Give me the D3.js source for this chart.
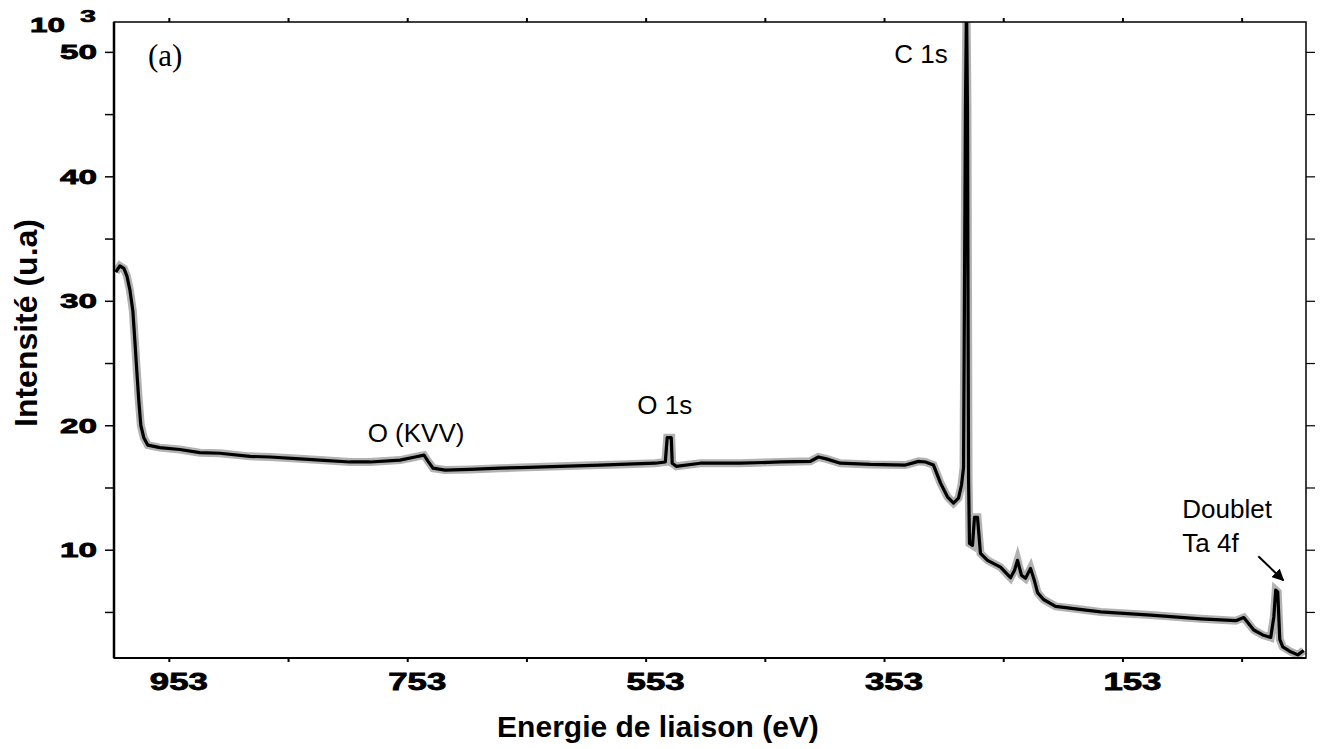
<!DOCTYPE html>
<html>
<head>
<meta charset="utf-8">
<script src="https://cdn.jsdelivr.net/npm/d3@7"></script>
<style>
  body { margin: 0; background: #fff; }
  text { font-family: "Liberation Sans", Arial, sans-serif; }
</style>
</head>
<body>
<div id="chart"></div>
<script>
// spectrum: binding energy (eV) and intensity (x10^3)
const energy = [997.5, 994.1, 990.7, 988.2, 985.7, 983.2, 981.5, 979.9, 978.2, 976.5, 974.0, 970.6,
  960.6, 943.8, 927.0, 910.2, 885.0, 868.2, 843.0, 826.2, 801.0, 784.2, 759.0, 746.4, 738.9, 735.5,
  731.3, 721.3, 700.3, 675.1, 658.3, 624.7, 591.1, 574.3, 545.0, 536.5, 534.9, 531.5, 530.7, 527.3,
  507.2, 473.6, 440.0, 414.8, 408.1, 401.4, 389.6, 364.4, 335.0, 324.1, 318.2, 311.5, 305.6, 299.8,
  294.7, 290.5, 288.0, 286.3, 284.7, 283.8, 283.0, 282.1, 281.3, 278.8, 277.1, 274.6, 272.1, 266.2,
  255.3, 246.9, 243.5, 241.0, 237.7, 234.3, 230.1, 226.8, 224.2, 219.2, 209.1, 192.3, 171.3, 129.3,
  87.3, 57.9, 51.2, 42.8, 35.3, 28.6, 26.0, 24.4, 22.7, 21.0, 18.5, 11.8, 5.9, 0.9];
const intensity = [32.3, 32.8, 32.6, 32.0, 30.9, 29.2, 26.8, 24.4, 22.0, 20.0, 19.0, 18.4,
  18.2, 18.05, 17.8, 17.75, 17.5, 17.45, 17.3, 17.2, 17.05, 17.05, 17.2, 17.45, 17.6, 17.1,
  16.55, 16.4, 16.45, 16.55, 16.6, 16.7, 16.8, 16.85, 16.95, 17.05, 19.0, 19.0, 16.95, 16.7,
  16.95, 16.95, 17.05, 17.1, 17.45, 17.3, 16.95, 16.85, 16.8, 17.1, 17.05, 16.8, 15.35, 14.25,
  13.75, 14.15, 15.2, 16.6, 45.5, 54, 45.5, 15.8, 10.5, 10.35, 12.6, 12.6, 9.7, 9.15,
  8.6, 7.75, 8.35, 9.15, 7.95, 7.7, 8.5, 7.5, 6.55, 6.0, 5.45, 5.25, 5.0, 4.75,
  4.45, 4.3, 4.55, 3.55, 3.15, 2.95, 4.6, 6.75, 6.6, 2.8, 2.2, 1.8, 1.55, 1.9];

const xTicks = [953, 853, 753, 653, 553, 453, 353, 253, 153, 53];
const xLabels = [953, 753, 553, 353, 153];
const yTicks = [5, 10, 15, 20, 25, 30, 35, 40, 45, 50];
const yLabels = [10, 20, 30, 40, 50];

const peaks = [
  {text: "C 1s", e: 322, v: 49.1, anchor: "middle"},
  {text: "O 1s", e: 537, v: 20.9, anchor: "middle"},
  {text: "O (KVV)", e: 745.6, v: 18.64, anchor: "middle"},
  {text: "Doublet", e: 102.8, v: 12.53, anchor: "start"},
  {text: "Ta 4f", e: 102.8, v: 9.8, anchor: "start"}
];

const W = 1321, H = 749;
const margin = {top: 22, right: 15, bottom: 91, left: 114};
const width = W - margin.left - margin.right;
const height = H - margin.top - margin.bottom;

const svg = d3.select("#chart").append("svg")
  .attr("width", W)
  .attr("height", H);

const x = d3.scaleLinear().domain([999, -1]).range([0, width]);
const y = d3.scaleLinear().domain([1.3, 52.4]).range([height, 0]);

const g = svg.append("g")
  .attr("transform", `translate(${margin.left},${margin.top})`);

const defs = svg.append("defs");
defs.append("clipPath").attr("id", "clip")
  .append("rect").attr("width", width).attr("height", height);

defs.append("marker")
  .attr("id", "head")
  .attr("viewBox", "0 0 10 10")
  .attr("refX", 9).attr("refY", 5)
  .attr("markerWidth", 6).attr("markerHeight", 6)
  .attr("orient", "auto")
  .append("path").attr("d", "M0,0L10,5L0,10z").attr("fill", "#000");

// spectrum
const pts = energy.map((e, i) => [e, intensity[i]]);
const line = d3.line().x(d => x(d[0])).y(d => y(d[1]));

const plot = g.append("g").attr("clip-path", "url(#clip)");
plot.append("path")
  .datum(pts)
  .attr("d", line)
  .attr("fill", "none")
  .attr("stroke", "#666")
  .attr("stroke-opacity", 0.5)
  .attr("stroke-width", 8);
plot.append("path")
  .datum(pts)
  .attr("d", line)
  .attr("fill", "none")
  .attr("stroke", "#000")
  .attr("stroke-width", 3.2)
  .attr("stroke-linejoin", "round");

// frame
g.append("rect")
  .attr("width", width).attr("height", height)
  .attr("fill", "none").attr("stroke", "#000").attr("stroke-width", 1.5);
g.append("line").attr("x1", 0).attr("x2", 0).attr("y1", 0).attr("y2", height)
  .attr("stroke", "#000").attr("stroke-width", 2.5);
g.append("line").attr("x1", 0).attr("x2", width).attr("y1", height).attr("y2", height)
  .attr("stroke", "#000").attr("stroke-width", 2);

// axes with ticks only
const axLeft = g.append("g")
  .call(d3.axisLeft(y).tickValues(yTicks).tickSize(9).tickFormat(""));
axLeft.select(".domain").remove();
axLeft.selectAll(".tick line").attr("stroke-width", 1.5);

const axRight = g.append("g").attr("transform", `translate(${width},0)`)
  .call(d3.axisRight(y).tickValues(yTicks).tickSize(9).tickFormat(""));
axRight.select(".domain").remove();
axRight.selectAll(".tick line").attr("stroke-width", 1.2);

const axBottom = g.append("g").attr("transform", `translate(0,${height})`)
  .call(d3.axisBottom(x).tickValues(xTicks).tickSize(4).tickFormat(""));
axBottom.select(".domain").remove();
axBottom.selectAll(".tick line").attr("stroke-width", 2);

const axTop = g.append("g")
  .call(d3.axisTop(x).tickValues(xTicks).tickSize(4).tickFormat(""));
axTop.select(".domain").remove();
axTop.selectAll(".tick line").attr("stroke-width", 2);

// tick labels
g.selectAll(".ylab")
  .data(yLabels)
  .join("text")
  .attr("class", "ylab")
  .attr("x", -17)
  .attr("y", d => y(d))
  .attr("dy", "0.36em")
  .attr("text-anchor", "end")
  .attr("font-size", 21)
  .attr("font-weight", "bold")
  .attr("stroke", "#000").attr("stroke-width", 0.8)
  .attr("textLength", 37)
  .attr("lengthAdjust", "spacingAndGlyphs")
  .text(d => d);

g.selectAll(".xlab")
  .data(xLabels)
  .join("text")
  .attr("class", "xlab")
  .attr("x", d => x(d) + 10)
  .attr("y", height + 32)
  .attr("text-anchor", "middle")
  .attr("font-size", 24)
  .attr("font-weight", "bold")
  .attr("stroke", "#000").attr("stroke-width", 0.8)
  .attr("textLength", 58)
  .attr("lengthAdjust", "spacingAndGlyphs")
  .text(d => d);

// 10^3 multiplier
svg.append("text")
  .attr("x", 30).attr("y", 32)
  .attr("font-size", 20).attr("font-weight", "bold")
  .attr("stroke", "#000").attr("stroke-width", 0.8)
  .attr("textLength", 35).attr("lengthAdjust", "spacingAndGlyphs")
  .text("10");
svg.append("text")
  .attr("x", 80).attr("y", 22)
  .attr("font-size", 17).attr("font-weight", "bold")
  .attr("stroke", "#000").attr("stroke-width", 0.6)
  .attr("textLength", 16).attr("lengthAdjust", "spacingAndGlyphs")
  .text("3");

// axis titles
svg.append("text")
  .attr("transform", "translate(37,323) rotate(-90)")
  .attr("text-anchor", "middle")
  .attr("font-size", 32)
  .attr("font-weight", "bold")
  .text("Intensité (u.a)");

svg.append("text")
  .attr("x", 658).attr("y", 737)
  .attr("text-anchor", "middle")
  .attr("font-size", 30)
  .attr("font-weight", "bold")
  .text("Energie de liaison (eV)");

// annotations
g.append("text")
  .attr("x", x(970.5)).attr("y", y(48.9))
  .style("font-family", "'Liberation Serif', 'Times New Roman', serif")
  .attr("font-size", 31)
  .text("(a)");

g.selectAll(".peak")
  .data(peaks)
  .join("text")
  .attr("class", "peak")
  .attr("x", d => x(d.e)).attr("y", d => y(d.v))
  .attr("font-size", 26)
  .attr("text-anchor", d => d.anchor)
  .text(d => d.text);

g.append("line")
  .attr("x1", x(39)).attr("y1", y(9.47))
  .attr("x2", x(18)).attr("y2", y(7.54))
  .attr("stroke", "#000").attr("stroke-width", 2)
  .attr("marker-end", "url(#head)");
</script>
</body>
</html>
